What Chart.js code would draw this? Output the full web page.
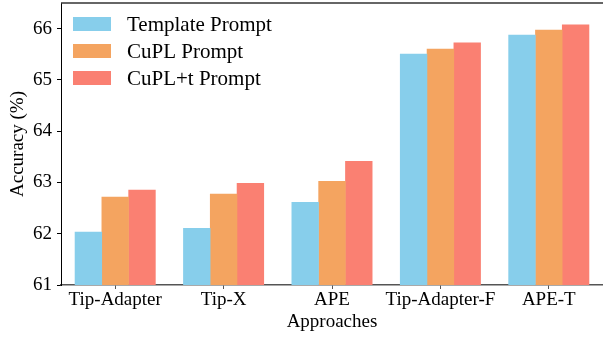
<!DOCTYPE html>
<html>
<head>
<meta charset="utf-8">
<script src="https://cdn.jsdelivr.net/npm/chart.js@4/dist/chart.umd.min.js"></script>
<style>
  html, body { margin: 0; padding: 0; background: #fff; overflow: hidden; }
  #chart { display: block; }
</style>
</head>
<body>
<canvas id="chart" width="603" height="339"></canvas>
<script>
// Approaches compared on the x axis
const categories = ['Tip-Adapter', 'Tip-X', 'APE', 'Tip-Adapter-F', 'APE-T'];

// Accuracy (%) for each prompt type
const templatePrompt = [62.04, 62.11, 62.62, 65.51, 65.88];
const cuplPrompt     = [62.72, 62.78, 63.03, 65.61, 65.98];
const cuplTPrompt    = [62.86, 62.99, 63.42, 65.73, 66.08];

const seriesNames = ['Template Prompt', 'CuPL Prompt', 'CuPL+t Prompt'];
const yTicks = [61, 62, 63, 64, 65, 66];

const FONT = '"Liberation Serif", "Times New Roman", serif';
const colors = ['#87CEEB', '#F4A460', '#FA8072'];

// Legend drawn inside the plot, upper-left corner
const innerLegend = {
  id: 'innerLegend',
  afterDraw(chart) {
    const { ctx, chartArea } = chart;
    ctx.save();
    ctx.font = '21px ' + FONT;
    ctx.textBaseline = 'middle';
    ctx.textAlign = 'left';
    chart.data.datasets.forEach((ds, i) => {
      const cy = chartArea.top + 21 + i * 27;
      ctx.fillStyle = ds.backgroundColor;
      ctx.fillRect(chartArea.left + 12, cy - 7, 38, 14);
      ctx.fillStyle = '#000';
      ctx.fillText(ds.label, chartArea.left + 66, cy + 1);
    });
    ctx.restore();
  }
};

// Top frame line of the axes box
const topFrame = {
  id: 'topFrame',
  afterDraw(chart) {
    const { ctx, chartArea } = chart;
    ctx.save();
    ctx.strokeStyle = '#333';
    ctx.lineWidth = 1.5;
    ctx.beginPath();
    ctx.moveTo(chartArea.left, chartArea.top);
    ctx.lineTo(chartArea.right, chartArea.top);
    ctx.stroke();
    ctx.restore();
  }
};

new Chart(document.getElementById('chart'), {
  type: 'bar',
  data: {
    labels: categories,
    datasets: [
      { label: seriesNames[0], data: templatePrompt, backgroundColor: colors[0] },
      { label: seriesNames[1], data: cuplPrompt, backgroundColor: colors[1] },
      { label: seriesNames[2], data: cuplTPrompt, backgroundColor: colors[2] }
    ]
  },
  options: {
    responsive: false,
    animation: false,
    devicePixelRatio: 1,
    layout: { autoPadding: false, padding: { top: 3, right: 0, bottom: 0, left: 0 } },
    // bars of a group touch; a slight overlap hides anti-aliasing seams
    datasets: { bar: { categoryPercentage: 0.742, barPercentage: 1.02, borderWidth: 0 } },
    plugins: { legend: { display: false }, tooltip: { enabled: false }, title: { display: false } },
    scales: {
      x: {
        offset: true,
        grid: { display: true, drawOnChartArea: false, drawTicks: true, tickLength: 4, tickColor: '#555', offset: false },
        border: { display: true, color: '#555', width: 1.5 },
        ticks: { color: '#000', font: { family: FONT, size: 19 }, padding: 0, maxRotation: 0, autoSkip: false },
        title: { display: true, text: 'Approaches', color: '#000', font: { family: FONT, size: 19 }, padding: { top: 0, bottom: 5.5 } },
        afterFit(scale) {
          scale.height = 54;
          scale.paddingLeft = 0; scale.paddingRight = 0;
        }
      },
      y: {
        min: 61,
        max: 66.5,
        grid: { display: true, drawOnChartArea: false, drawTicks: true, tickLength: 4, tickColor: '#000' },
        border: { display: true, color: '#000', width: 1 },
        ticks: {
          includeBounds: false,
          stepSize: 1,
          color: '#000',
          font: { family: FONT, size: 19 },
          padding: 5,
          callback: (v) => (yTicks.includes(v) ? String(v) : '')
        },
        title: { display: true, text: 'Accuracy (%)', color: '#000', font: { family: FONT, size: 19 }, padding: { top: 7, bottom: 0 } },
        afterFit(scale) {
          scale.width = 61;
          scale.paddingTop = 0; scale.paddingBottom = 0;
        }
      }
    }
  },
  plugins: [innerLegend, topFrame]
});
</script>
</body>
</html>
